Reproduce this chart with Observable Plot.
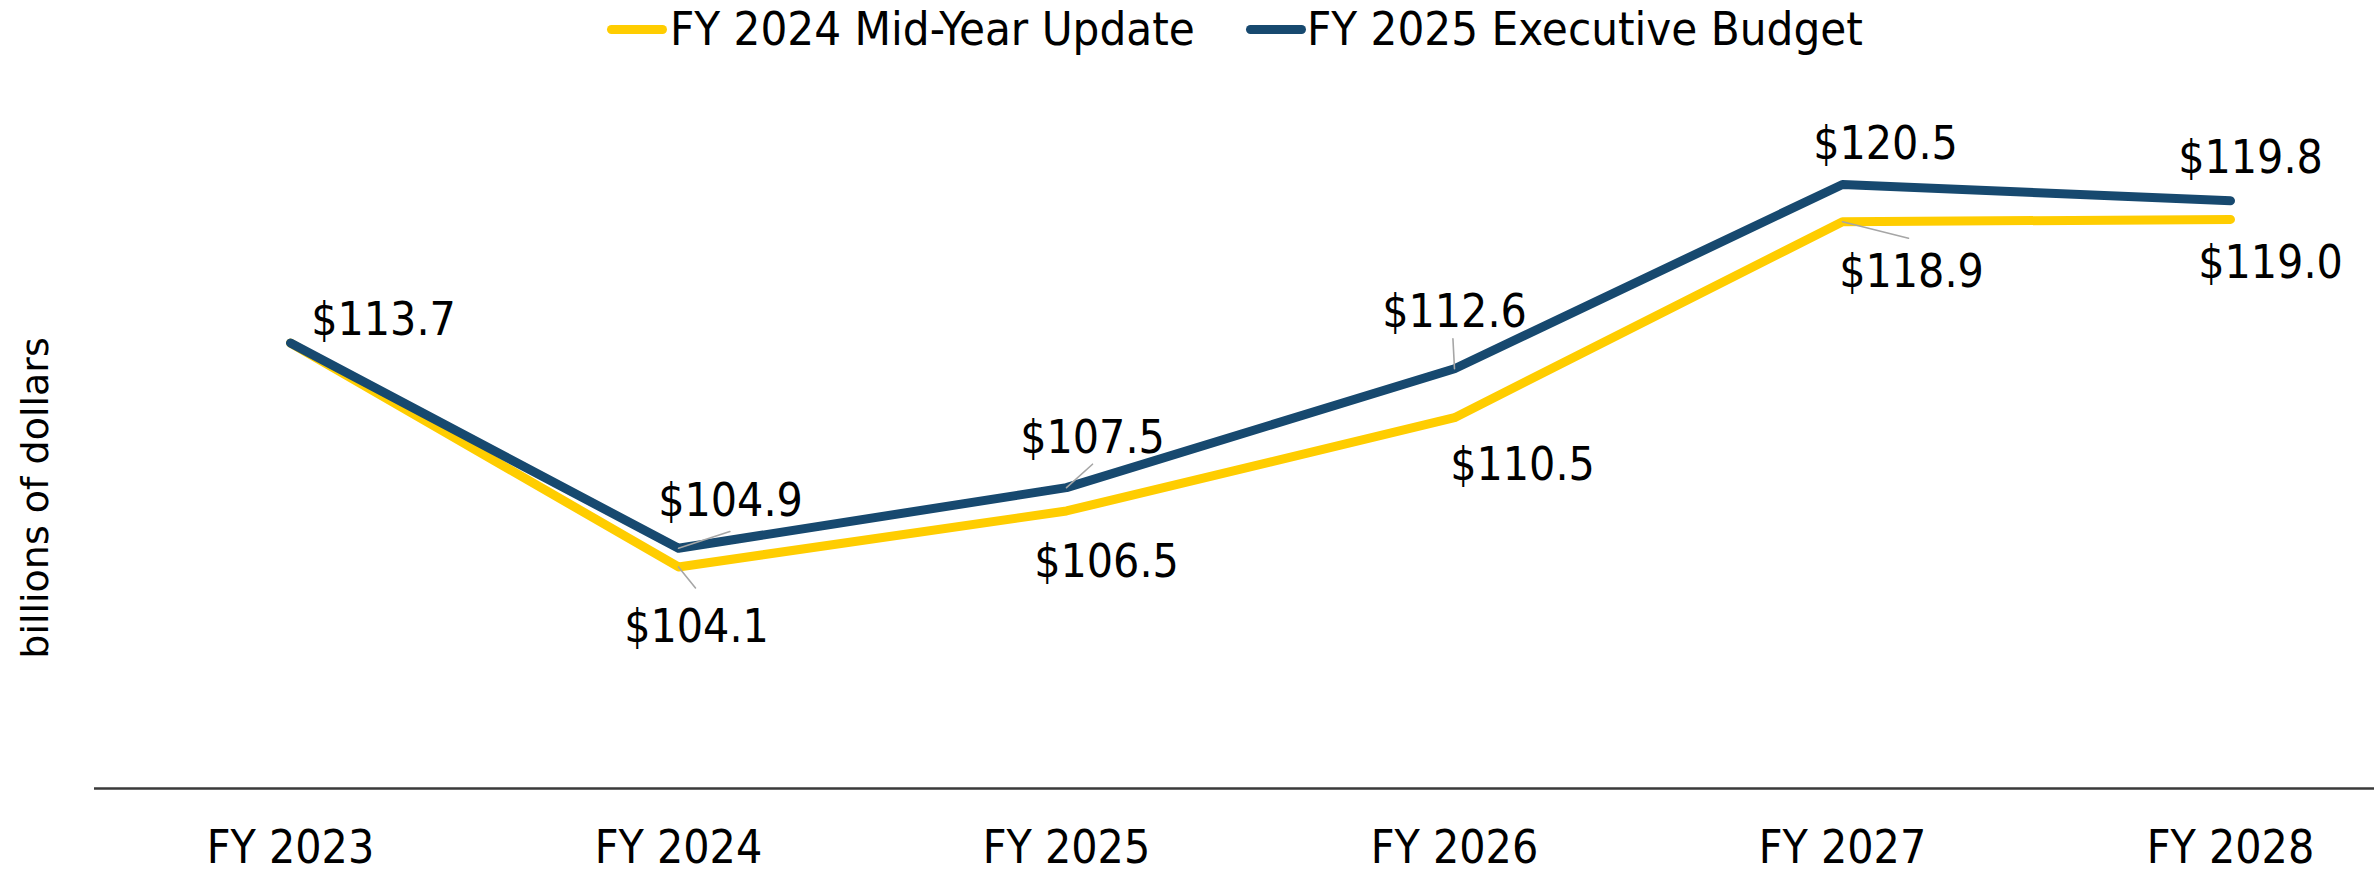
<!DOCTYPE html>
<html><head><meta charset="utf-8">
<script src="https://cdn.jsdelivr.net/npm/d3@7"></script>
<script src="https://cdn.jsdelivr.net/npm/@observablehq/plot@0.6"></script>
<style>
body{margin:0;background:#fff;}
#wrap{position:relative;width:2374px;height:874px;overflow:hidden;}
.lg{position:absolute;font-family:"DejaVu Sans Condensed","DejaVu Sans",sans-serif;font-stretch:condensed;font-size:47px;color:#000;white-space:nowrap;line-height:1;}
.sw{position:absolute;height:9px;border-radius:5px;width:60px;}
</style></head><body><div id="wrap"></div>
<script>
// ---- data ----
const years = ["FY 2023", "FY 2024", "FY 2025", "FY 2026", "FY 2027", "FY 2028"];
const midYearUpdate = [113.7, 104.1, 106.5, 110.5, 118.9, 119.0];
const execBudget = [113.7, 104.9, 107.5, 112.6, 120.5, 119.8];
const seriesNames = ["FY 2024 Mid-Year Update", "FY 2025 Executive Budget"];
const seriesColors = ["#FFCD00", "#17496F"];
const yAxisTitle = "billions of dollars";

// ---- layout annotations (pixel offsets of data labels / leader lines) ----
const midLabelOffsets = [null, [18, 75], [40, 66], [68, 62], [69, 65], [40, 59]];
const execLabelOffsets = [[93, -8], [52, -32], [26, -35], [0, -42], [43, -25], [20, -28]];
const leaderLines = [
  {series: 1, index: 1, rotate: 72, length: 54},
  {series: 0, index: 1, rotate: 141, length: 27},
  {series: 1, index: 2, rotate: 48, length: 35},
  {series: 1, index: 3, rotate: -3, length: 30},
  {series: 0, index: 4, rotate: 104, length: 68}
];

const seriesValues = [midYearUpdate, execBudget];
const rows = [];
seriesValues.forEach((vals, s) => vals.forEach((v, i) => rows.push({series: seriesNames[s], year: years[i], value: v})));

const leaderRows = leaderLines.map(l => ({year: years[l.index], value: seriesValues[l.series][l.index], rotate: l.rotate, length: l.length}));

const fmt = v => "$" + v.toFixed(1);
const labelMarks = [];
[midLabelOffsets, execLabelOffsets].forEach((offs, s) => {
  offs.forEach((o, i) => {
    if (!o) return;
    labelMarks.push(Plot.text([{year: years[i], value: seriesValues[s][i]}], {
      x: "year", y: "value", text: d => fmt(d.value),
      dx: o[0], dy: o[1], textAnchor: "middle", lineAnchor: "bottom", fill: "#000", fontSize: 46
    }));
  });
});

const plot = Plot.plot({
  width: 2374,
  height: 874,
  marginLeft: 94,
  marginRight: 0,
  marginTop: 79,
  marginBottom: 86,
  style: {fontFamily: '"DejaVu Sans Condensed","DejaVu Sans",sans-serif', fontStretch: "condensed", fontSize: "46px", color: "#000", background: "transparent", overflow: "visible"},
  x: {type: "point", domain: years, insetLeft: 195, insetRight: 143, padding: 0},
  y: {domain: [94.6, 125], axis: null},
  color: {domain: seriesNames, range: seriesColors},
  length: {type: "identity"},
  marks: [
    Plot.ruleY([94.6], {stroke: "#3a3a3a", strokeWidth: 2.5}),
    Plot.axisX({tickSize: 0, tickPadding: 42, fontSize: 46, label: null, fill: "#000"}),
    Plot.line(rows, {x: "year", y: "value", z: "series", stroke: "series", strokeWidth: 9, strokeLinecap: "round", strokeLinejoin: "round"}),
    Plot.vector(leaderRows, {x: "year", y: "value", rotate: "rotate", length: "length", anchor: "start", shape: "spike", r: 0, stroke: "#a6a6a6", strokeWidth: 1.6, fill: "none"}),
    ...labelMarks,
    Plot.text([yAxisTitle], {frameAnchor: "left", dx: -47, dy: 64, rotate: -90, textAnchor: "middle", lineAnchor: "bottom", fontSize: 38, fontFamily: '"DejaVu Sans",sans-serif', fill: "#000"})
  ]
});

// y-axis title uses the normal-width face (like the reference's wide font)
plot.querySelectorAll("text").forEach(t => {
  if (t.textContent === yAxisTitle) t.style.fontStretch = "normal";
});

const wrap = document.getElementById("wrap");
wrap.appendChild(plot);

// legend
const legendItems = [
  {sw: 607, tx: 670},
  {sw: 1246, tx: 1307}
];
seriesNames.forEach((name, i) => {
  const sw = document.createElement("div");
  sw.className = "sw";
  sw.style.left = legendItems[i].sw + "px";
  sw.style.top = "24.5px";
  sw.style.background = seriesColors[i];
  wrap.appendChild(sw);
  const t = document.createElement("div");
  t.className = "lg";
  t.style.left = legendItems[i].tx + "px";
  t.style.top = "5px";
  t.textContent = name;
  wrap.appendChild(t);
});
</script>
</body></html>
